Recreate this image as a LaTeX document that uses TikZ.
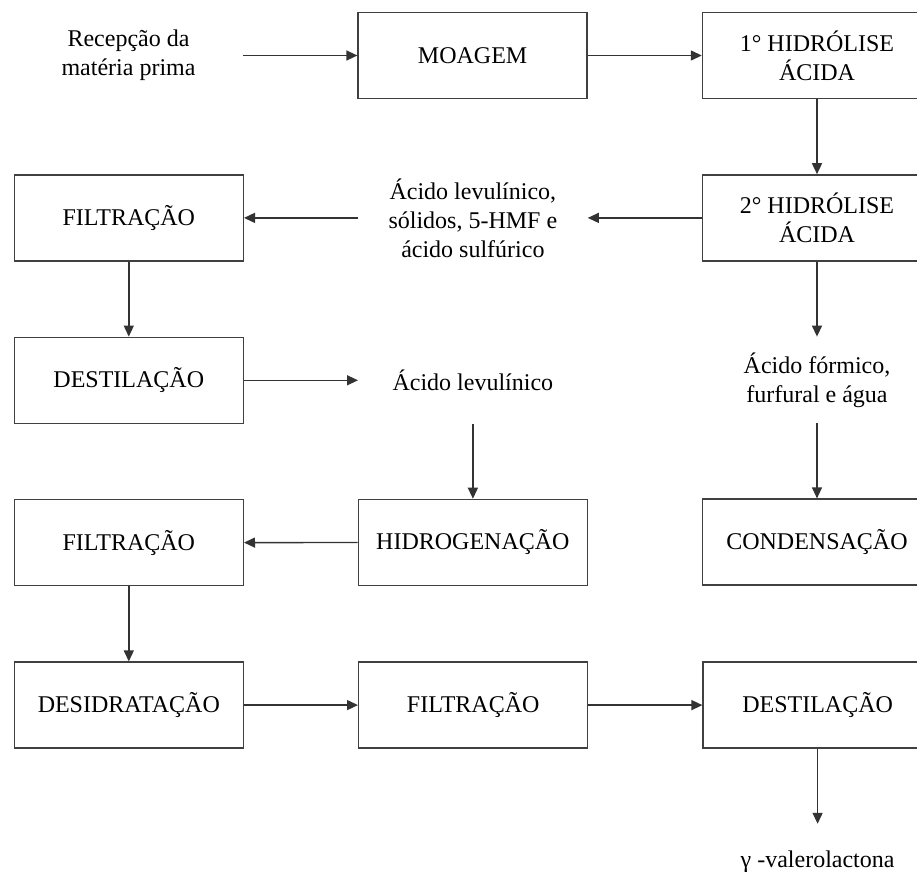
\documentclass[tikz,border=0pt]{standalone}
\usepackage{fontspec}
\setmainfont{Liberation Serif}
\usepackage{tikz}
\usetikzlibrary{arrows.meta, positioning}

\begin{document}
\begin{tikzpicture}[
    x=0.5pt, y=-0.5pt,
    font=\fontsize{12}{14.5}\selectfont,
    node distance=37.5pt and 57pt,
    box/.style={rectangle, draw=black!75, line width=0.7pt, minimum width=114.5pt, minimum height=43pt, inner sep=0pt, align=center},
    txt/.style={rectangle, minimum width=114.5pt, minimum height=43pt, inner sep=0pt, align=center},
    arrow/.style={-{Triangle[length=5.5pt, width=5pt]}, draw=black!80, line width=0.7pt}
]
\useasboundingbox (0,0) rectangle (917,872);

\node[txt] (recepcao) at (128.5,55.5) {Recepção da\\matéria prima};
\node[box, right=of recepcao] (moagem) {MOAGEM};
\node[box, right=of moagem] (hidrolise1) {1° HIDRÓLISE\\ÁCIDA};
\node[box, below=of hidrolise1] (hidrolise2) {2° HIDRÓLISE\\ÁCIDA};
\node[txt, left=of hidrolise2] (mistura) {Ácido levulínico,\\sólidos, 5-HMF e\\ácido sulfúrico};
\node[box, left=of mistura] (filtracao1) {FILTRAÇÃO};
\node[box, below=of filtracao1] (destilacao1) {DESTILAÇÃO};
\node[txt, right=of destilacao1] (levulinico) {Ácido levulínico};
\node[txt, below=of hidrolise2] (formico) {Ácido fórmico,\\furfural e água};
\node[box, below=of levulinico] (hidrogenacao) {HIDROGENAÇÃO};
\node[box, below=of destilacao1] (filtracao2) {FILTRAÇÃO};
\node[box, below=of formico] (condensacao) {CONDENSAÇÃO};
\node[box, below=of filtracao2] (desidratacao) {DESIDRATAÇÃO};
\node[box, right=of desidratacao] (filtracao3) {FILTRAÇÃO};
\node[box, right=of filtracao3] (destilacao2) {DESTILAÇÃO};
\node[txt, below=of destilacao2, minimum height=38pt] (gvl) {γ -valerolactona};

\draw[arrow] (recepcao) -- (moagem);
\draw[arrow] (moagem) -- (hidrolise1);
\draw[arrow] (hidrolise1) -- (hidrolise2);
\draw[arrow] (hidrolise2) -- (mistura);
\draw[arrow] (mistura) -- (filtracao1);
\draw[arrow] (filtracao1) -- (destilacao1);
\draw[arrow] (destilacao1) -- (levulinico);
\draw[arrow] (levulinico) -- (hidrogenacao);
\draw[arrow] (hidrogenacao) -- (filtracao2);
\draw[arrow] (hidrolise2) -- (formico);
\draw[arrow] (formico) -- (condensacao);
\draw[arrow] (filtracao2) -- (desidratacao);
\draw[arrow] (desidratacao) -- (filtracao3);
\draw[arrow] (filtracao3) -- (destilacao2);
\draw[arrow] (destilacao2) -- (gvl);
\end{tikzpicture}
\end{document}
